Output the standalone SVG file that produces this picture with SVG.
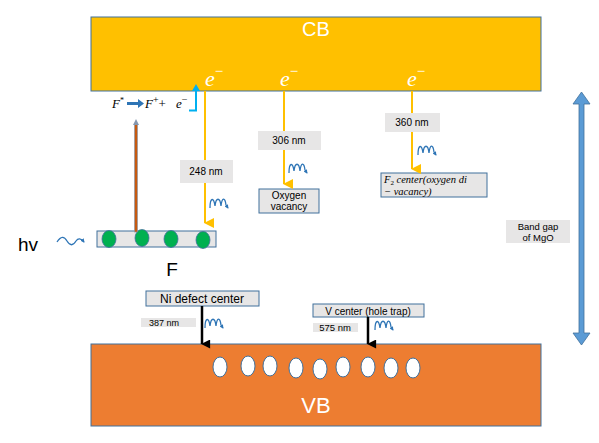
<svg xmlns="http://www.w3.org/2000/svg" width="599" height="443" viewBox="0 0 599 443">
<defs>
<style>
.band{stroke:#41719C;stroke-width:1}
.lbl{fill:#E7E6E6}
.box{fill:#E7E6E6;stroke:#41719C;stroke-width:1}
.t{font-family:"Liberation Sans",Arial,sans-serif;fill:#000}
.m{font-family:"Liberation Serif","DejaVu Serif",serif;font-style:italic}
.y{stroke:#FFC000;stroke-width:2;fill:none}
.k{stroke:#000;stroke-width:2.5;fill:none}
.w{stroke:#2E75B6;stroke-width:1.3;fill:none}
</style>
<marker id="ay" viewBox="0 0 10 10" refX="5" refY="9" markerWidth="10" markerHeight="10" markerUnits="userSpaceOnUse" orient="auto-start-reverse"><path d="M0,0 L10,0 L5,10 z" fill="#FFC000"/></marker>
<marker id="ak" viewBox="0 0 10 10" refX="5" refY="9" markerWidth="9" markerHeight="10" markerUnits="userSpaceOnUse" orient="auto-start-reverse"><path d="M0,0 L10,0 L5,10 z" fill="#000"/></marker>
<marker id="aw" viewBox="0 0 10 10" refX="8" refY="5" markerWidth="4" markerHeight="4" markerUnits="userSpaceOnUse" orient="auto"><path d="M0,0 L10,5 L0,10 z" fill="#2E75B6"/></marker>
<path id="sq" d="M0,10 C0,-1 4,-1 5,8 C6,-1 10,-1 11,8 C12,-1 15,-1 16,7 L18,10" class="w" marker-end="url(#aw)"/>
</defs>

<g id="CB">
<rect x="91" y="17" width="450" height="74" fill="#FFC000" class="band"/>
<text x="316" y="36" font-family="Liberation Sans,Arial,sans-serif" font-size="20" fill="#fff" text-anchor="middle">CB</text>
<text x="205" y="86" class="m" font-size="22" fill="#fff">e<tspan dy="-10" font-size="15" font-style="normal">−</tspan></text>
<text x="280" y="86" class="m" font-size="22" fill="#fff">e<tspan dy="-10" font-size="15" font-style="normal">−</tspan></text>
<text x="407" y="86" class="m" font-size="22" fill="#fff">e<tspan dy="-10" font-size="15" font-style="normal">−</tspan></text>
</g>

<g id="VB">
<rect x="91" y="344" width="450" height="82" fill="#ED7D31" class="band"/>
<g fill="#fff" stroke="#41719C" stroke-width="1">
<ellipse cx="220" cy="367" rx="7" ry="10"/>
<ellipse cx="248" cy="366" rx="7" ry="10"/>
<ellipse cx="270" cy="366" rx="7" ry="10"/>
<ellipse cx="296" cy="368" rx="7" ry="10"/>
<ellipse cx="320" cy="369" rx="7" ry="10"/>
<ellipse cx="343" cy="367" rx="7" ry="10"/>
<ellipse cx="368" cy="367" rx="7" ry="10"/>
<ellipse cx="391" cy="368" rx="7" ry="10"/>
<ellipse cx="413" cy="368" rx="7" ry="10"/>
</g>
<text x="316" y="413" font-family="Liberation Sans,Arial,sans-serif" font-size="22" fill="#fff" text-anchor="middle">VB</text>
</g>

<g id="F-defect">
<rect x="97" y="231" width="119" height="16" class="box"/>
<g fill="#00B050" stroke="#41719C" stroke-width="0.8">
<ellipse cx="109" cy="239" rx="7" ry="8.5"/>
<ellipse cx="142" cy="238" rx="7" ry="8.5"/>
<ellipse cx="171" cy="239" rx="7" ry="8.5"/>
<ellipse cx="203" cy="240" rx="7" ry="8.5"/>
</g>
<text x="172" y="276" class="t" font-size="19" text-anchor="middle">F</text>
</g>

<g id="hv">
<text x="18" y="251" class="t" font-size="19">hv</text>
<path d="M57,242 C61,236 64,236 67,241 C70,246 73,246 76,241 C78,238 81,238 84,242" class="w" marker-end="url(#aw)"/>
</g>

<g id="reaction">
<text x="112" y="108" class="m" font-size="13">F<tspan dy="-5" font-size="8" font-style="normal">*</tspan></text>
<path d="M127,102 L138,102 L138,99 L144,103.5 L138,108 L138,105 L127,105 z" fill="#2E75B6"/>
<text x="145" y="108" class="m" font-size="13">F<tspan dy="-5" font-size="10" font-style="normal">+</tspan><tspan dy="5" font-style="normal" font-size="13">+</tspan></text>
<text x="176" y="108" class="m" font-size="13">e<tspan dy="-5" font-size="10" font-style="normal">−</tspan></text>
</g>

<g id="oxygen-vacancy">
<rect x="259" y="189" width="60" height="24" class="box"/>
<text x="289" y="199" class="t" font-size="10" text-anchor="middle">Oxygen</text>
<text x="289" y="210" class="t" font-size="10" text-anchor="middle">vacancy</text>
</g>

<g id="F2-center">
<rect x="381" y="173" width="106" height="24" class="box"/>
<text x="384" y="183" class="m" font-size="10.5">F<tspan dy="2" font-size="7" font-style="normal">2</tspan><tspan dy="-2"> center(oxygen di</tspan></text>
<text x="384" y="194.5" class="m" font-size="10.5">− vacancy)</text>
</g>

<g id="Ni-center">
<rect x="146" y="291" width="113" height="15" class="box"/>
<text x="202" y="303" class="t" font-size="12" text-anchor="middle">Ni defect center</text>
</g>

<g id="V-center">
<rect x="313" y="304" width="111" height="13" class="box"/>
<text x="368" y="314.5" class="t" font-size="10" text-anchor="middle">V center (hole trap)</text>
</g>

<g id="band-gap">
<rect x="506" y="220" width="64" height="23" class="lbl"/>
<text x="538" y="230" class="t" font-size="9.5" text-anchor="middle">Band gap</text>
<text x="538" y="241" class="t" font-size="9.5" text-anchor="middle">of MgO</text>
<path d="M581.5,92 L590,104 L584,104 L584,333 L590,333 L581.5,345 L573,333 L579,333 L579,104 L573,104 z" fill="#5B9BD5" stroke="#41719C" stroke-width="0.8"/>
</g>

<g id="connectors">
<line x1="205" y1="91" x2="205" y2="223" class="y" marker-end="url(#ay)"/>
<line x1="284" y1="91" x2="284" y2="184" class="y" marker-end="url(#ay)"/>
<line x1="412" y1="91" x2="412" y2="169" class="y" marker-end="url(#ay)"/>
<line x1="202" y1="306" x2="202" y2="344" class="k" marker-end="url(#ak)"/>
<line x1="368" y1="317" x2="368" y2="344" class="k" marker-end="url(#ak)"/>
<rect x="134.5" y="124" width="3" height="108" fill="#C55A11" stroke="#8497B0" stroke-width="0.6"/>
<path d="M136,119 L139,125 L133,125 z" fill="#8497B0"/>
<path d="M189,110.5 L196,110.5 L196,89" stroke="#00B0F0" stroke-width="2" fill="none"/>
<path d="M196,84 L200,91 L192,91 z" fill="#00B0F0"/>
<use href="#sq" x="210" y="198"/>
<use href="#sq" x="289" y="163"/>
<use href="#sq" x="418" y="145"/>
<use href="#sq" x="205" y="318"/>
<use href="#sq" x="375" y="320"/>
</g>

<g id="labels">
<rect x="180" y="160" width="53" height="23" class="lbl"/>
<text x="206" y="175" class="t" font-size="10" text-anchor="middle">248 nm</text>
<rect x="258" y="131" width="63" height="19" class="lbl"/>
<text x="289" y="144" class="t" font-size="10" text-anchor="middle">306 nm</text>
<rect x="385" y="113" width="55" height="19" class="lbl"/>
<text x="412" y="126" class="t" font-size="10" text-anchor="middle">360 nm</text>
<rect x="141" y="318" width="55" height="9" class="lbl"/>
<text x="164" y="326" class="t" font-size="9" text-anchor="middle">387 nm</text>
<rect x="313" y="323" width="45" height="9" class="lbl"/>
<text x="335" y="331" class="t" font-size="9.5" text-anchor="middle">575 nm</text>
</g>
</svg>
